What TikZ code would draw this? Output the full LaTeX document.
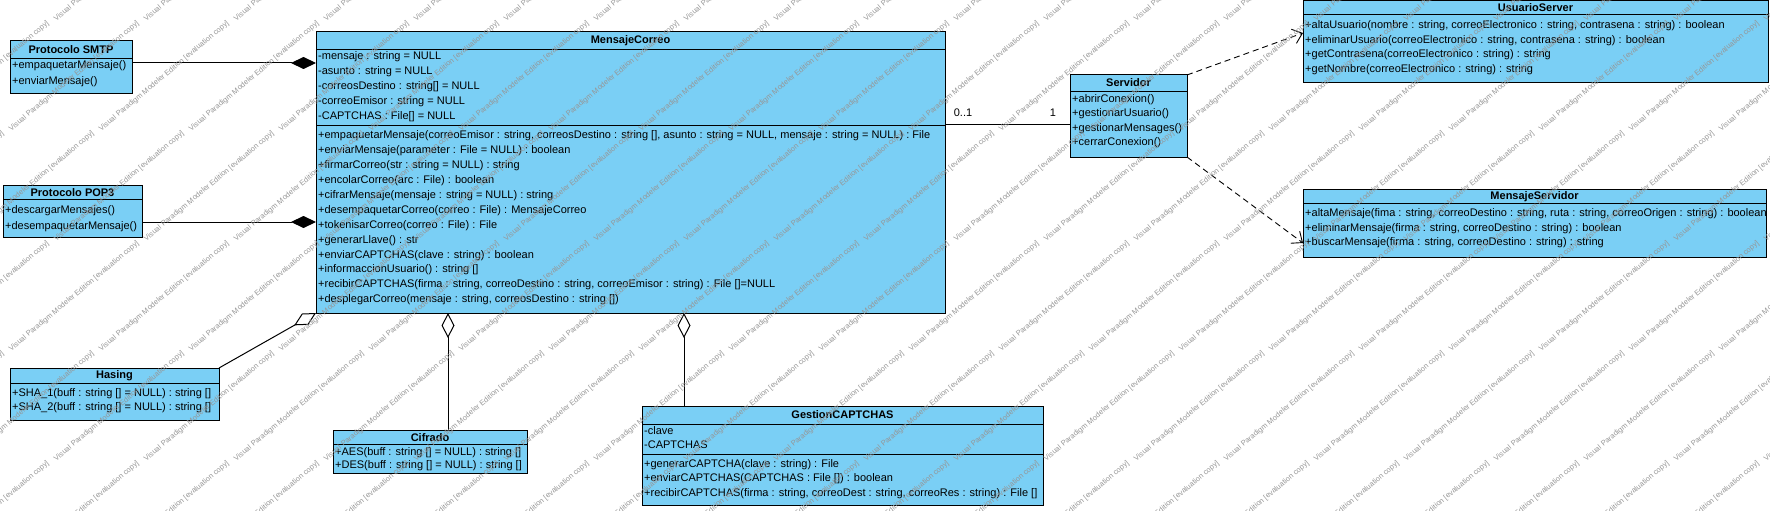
\documentclass[tikz,border=0pt]{standalone}
\usepackage{fontspec}
\setmainfont{Liberation Sans}
\usetikzlibrary{arrows.meta,calc}
\definecolor{clsfill}{RGB}{122,207,245}
\definecolor{wmgray}{RGB}{150,150,150}
\begin{document}
\begin{tikzpicture}[x=1pt,y=-1pt,
  cls/.style={draw, fill=clsfill, line width=1pt, anchor=north west, inner sep=0pt, outer sep=0pt},
  ttl/.style={font=\fontsize{11}{13}\selectfont\bfseries, inner sep=0pt},
  row/.style={font=\fontsize{11}{13}\selectfont, anchor=west, inner sep=0pt},
  lbl/.style={font=\fontsize{11}{13}\selectfont, inner sep=0pt},
  sep/.style={line width=1pt},
  compo/.style={{Diamond[length=25pt,width=12pt,fill=black]}-, line width=1pt},
  agg/.style={{Diamond[length=25pt,width=13pt,fill=white]}-, line width=1pt},
  assoc/.style={line width=1pt},
  dep/.style={dash pattern=on 6pt off 4pt, line width=0.9pt, -{Straight Barb[length=9pt,width=15pt]}},
  wm/.style={font=\fontsize{7.5}{9}\selectfont, text=wmgray, inner sep=0pt, anchor=west, rotate=40}
]
\useasboundingbox (0,0) rectangle (1770,511);

% ---------- Protocolo SMTP ----------
\node[cls, minimum width=122pt, minimum height=52pt] (smtp) at (10,41) {};
\node[ttl] (smtp-t) at (71,49.5) {Protocolo SMTP};
\draw[sep] (10,59) -- (132,59);
\node[row] (smtp-m1) at (12,65.5) {+empaquetarMensaje()};
\node[row] (smtp-m2) at (12,82) {+enviarMensaje()};

% ---------- Protocolo POP3 ----------
\node[cls, minimum width=139pt, minimum height=52pt] (pop) at (3,185) {};
\node[ttl] (pop-t) at (72.5,192.5) {Protocolo POP3};
\draw[sep] (3,199.5) -- (142,199.5);
\node[row] (pop-m1) at (5,210.5) {+descargarMensajes()};
\node[row] (pop-m2) at (5,227) {+desempaquetarMensaje()};

% ---------- MensajeCorreo ----------
\node[cls, minimum width=629pt, minimum height=281pt] (mc) at (316,32) {};
\node[ttl] (mc-t) at (630.5,41) {MensajeCorreo};
\draw[sep] (316,50) -- (945,50);
\node[row] (mc-a1) at (318,57) {-mensaje : string = NULL};
\node[row] (mc-a2) at (318,71.8) {-asunto : string = NULL};
\node[row] (mc-a3) at (318,86.6) {-correosDestino : string[] = NULL};
\node[row] (mc-a4) at (318,101.4) {-correoEmisor : string = NULL};
\node[row] (mc-a5) at (318,116.2) {-CAPTCHAS : File[] = NULL};
\draw[sep] (316,125) -- (945,125);
\node[row] (mc-m1) at (318,136) {+empaquetarMensaje(correoEmisor : string, correosDestino : string [], asunto : string = NULL, mensaje : string = NULL) : File};
\node[row] (mc-m2) at (318,150.9) {+enviarMensaje(parameter : File = NULL) : boolean};
\node[row] (mc-m3) at (318,165.8) {+firmarCorreo(str : string = NULL) : string};
\node[row] (mc-m4) at (318,180.7) {+encolarCorreo(arc : File) : boolean};
\node[row] (mc-m5) at (318,195.6) {+cifrarMensaje(mensaje : string = NULL) : string};
\node[row] (mc-m6) at (318,210.5) {+desempaquetarCorreo(correo : File) : MensajeCorreo};
\node[row] (mc-m7) at (318,225.4) {+tokenisarCorreo(correo : File) : File};
\node[row] (mc-m8) at (318,240.3) {+generarLlave() : str};
\node[row] (mc-m9) at (318,255.2) {+enviarCAPTCHAS(clave : string) : boolean};
\node[row] (mc-m10) at (318,270.1) {+informaccionUsuario() : string []};
\node[row] (mc-m11) at (318,285) {+recibirCAPTCHAS(firma : string, correoDestino : string, correoEmisor : string) : File []=NULL};
\node[row] (mc-m12) at (318,299.9) {+desplegarCorreo(mensaje : string, correosDestino : string [])};

% ---------- Hasing ----------
\node[cls, minimum width=209pt, minimum height=52pt] (has) at (10,368) {};
\node[ttl] (has-t) at (114.5,375.5) {Hasing};
\draw[sep] (10,383) -- (219,383);
\node[row] (has-m1) at (12,393.5) {+SHA\_1(buff : string [] = NULL) : string []};
\node[row] (has-m2) at (12,408) {+SHA\_2(buff : string [] = NULL) : string []};

% ---------- Cifrado ----------
\node[cls, minimum width=194pt, minimum height=43pt] (cif) at (333,430) {};
\node[ttl] (cif-t) at (430,437.5) {Cifrado};
\draw[sep] (333,444) -- (527,444);
\node[row] (cif-m1) at (335,453) {+AES(buff : string [] = NULL) : string []};
\node[row] (cif-m2) at (335,465.5) {+DES(buff : string [] = NULL) : string []};

% ---------- GestionCAPTCHAS ----------
\node[cls, minimum width=401pt, minimum height=99pt] (gc) at (642,406) {};
\node[ttl] (gc-t) at (842.5,415) {GestionCAPTCHAS};
\draw[sep] (642,424) -- (1043,424);
\node[row] (gc-a1) at (644,431) {-clave};
\node[row] (gc-a2) at (644,445) {-CAPTCHAS};
\draw[sep] (642,454) -- (1043,454);
\node[row] (gc-m1) at (644,465) {+generarCAPTCHA(clave : string) : File};
\node[row] (gc-m2) at (644,479) {+enviarCAPTCHAS(CAPTCHAS : File []) : boolean};
\node[row] (gc-m3) at (644,494) {+recibirCAPTCHAS(firma : string, correoDest : string, correoRes : string) : File []};

% ---------- Servidor ----------
\node[cls, minimum width=117pt, minimum height=82pt] (srv) at (1070,75) {};
\node[ttl] (srv-t) at (1128.5,83) {Servidor};
\draw[sep] (1070,91) -- (1187,91);
\node[row] (srv-m1) at (1072,99.5) {+abrirConexion()};
\node[row] (srv-m2) at (1072,114) {+gestionarUsuario()};
\node[row] (srv-m3) at (1072,128.5) {+gestionarMensages()};
\node[row] (srv-m4) at (1072,143) {+cerrarConexion()};

% ---------- UsuarioServer ----------
\node[cls, minimum width=465pt, minimum height=82pt] (us) at (1303,1) {};
\node[ttl] (us-t) at (1535.5,8) {UsuarioServer};
\draw[sep] (1303,15) -- (1768,15);
\node[row] (us-m1) at (1305,26) {+altaUsuario(nombre : string, correoElectronico : string, contrasena : string) : boolean};
\node[row] (us-m2) at (1305,40.5) {+eliminarUsuario(correoElectronico : string, contrasena : string) : boolean};
\node[row] (us-m3) at (1305,55) {+getContrasena(correoElectronico : string) : string};
\node[row] (us-m4) at (1305,69.5) {+getNombre(correoElectronico : string) : string};

% ---------- MensajeServidor ----------
\node[cls, minimum width=463pt, minimum height=68pt] (ms) at (1303,189) {};
\node[ttl] (ms-t) at (1534.5,197) {MensajeServidor};
\draw[sep] (1303,203.5) -- (1766,203.5);
\node[row] (ms-m1) at (1305,213.5) {+altaMensaje(fima : string, correoDestino : string, ruta : string, correoOrigen : string) : boolean};
\node[row] (ms-m2) at (1305,228.5) {+eliminarMensaje(firma : string, correoDestino : string) : boolean};
\node[row] (ms-m3) at (1305,243) {+buscarMensaje(firma : string, correoDestino : string) : string};

% ---------- Connectors ----------
\draw[compo] (mc.west |- 0,63) -- (smtp.east |- 0,63);
\draw[compo] (mc.west |- 0,222) -- (pop.east |- 0,222);
\draw[agg] (mc.south west) -- (has.north east);
\draw[agg] (mc.south -| 448,0) -- (cif.north -| 448,0);
\draw[agg] (mc.south -| 684,0) -- (gc.north -| 684,0);
\draw[assoc] (mc.east |- 0,124) -- (srv.west |- 0,124);
\node[lbl] (mult-a) at (963,113) {0..1};
\node[lbl] (mult-b) at (1053,113) {1};
\draw[dep] (srv.north east) -- (us.west |- 0,33);
\draw[dep] (srv.south east) -- (ms.west |- 0,243);

% ---------- Evaluation watermark ----------
\foreach \j in {0,...,5} {
  \foreach \i in {0,...,22} {
    \node[wm] (wm-\i-\j) at ({-215 + \i*90 + mod(\j,2)*45}, {20 + \j*110})
      {Visual Paradigm Modeler Edition [evaluation copy]};
  }
}
\end{tikzpicture}
\end{document}
